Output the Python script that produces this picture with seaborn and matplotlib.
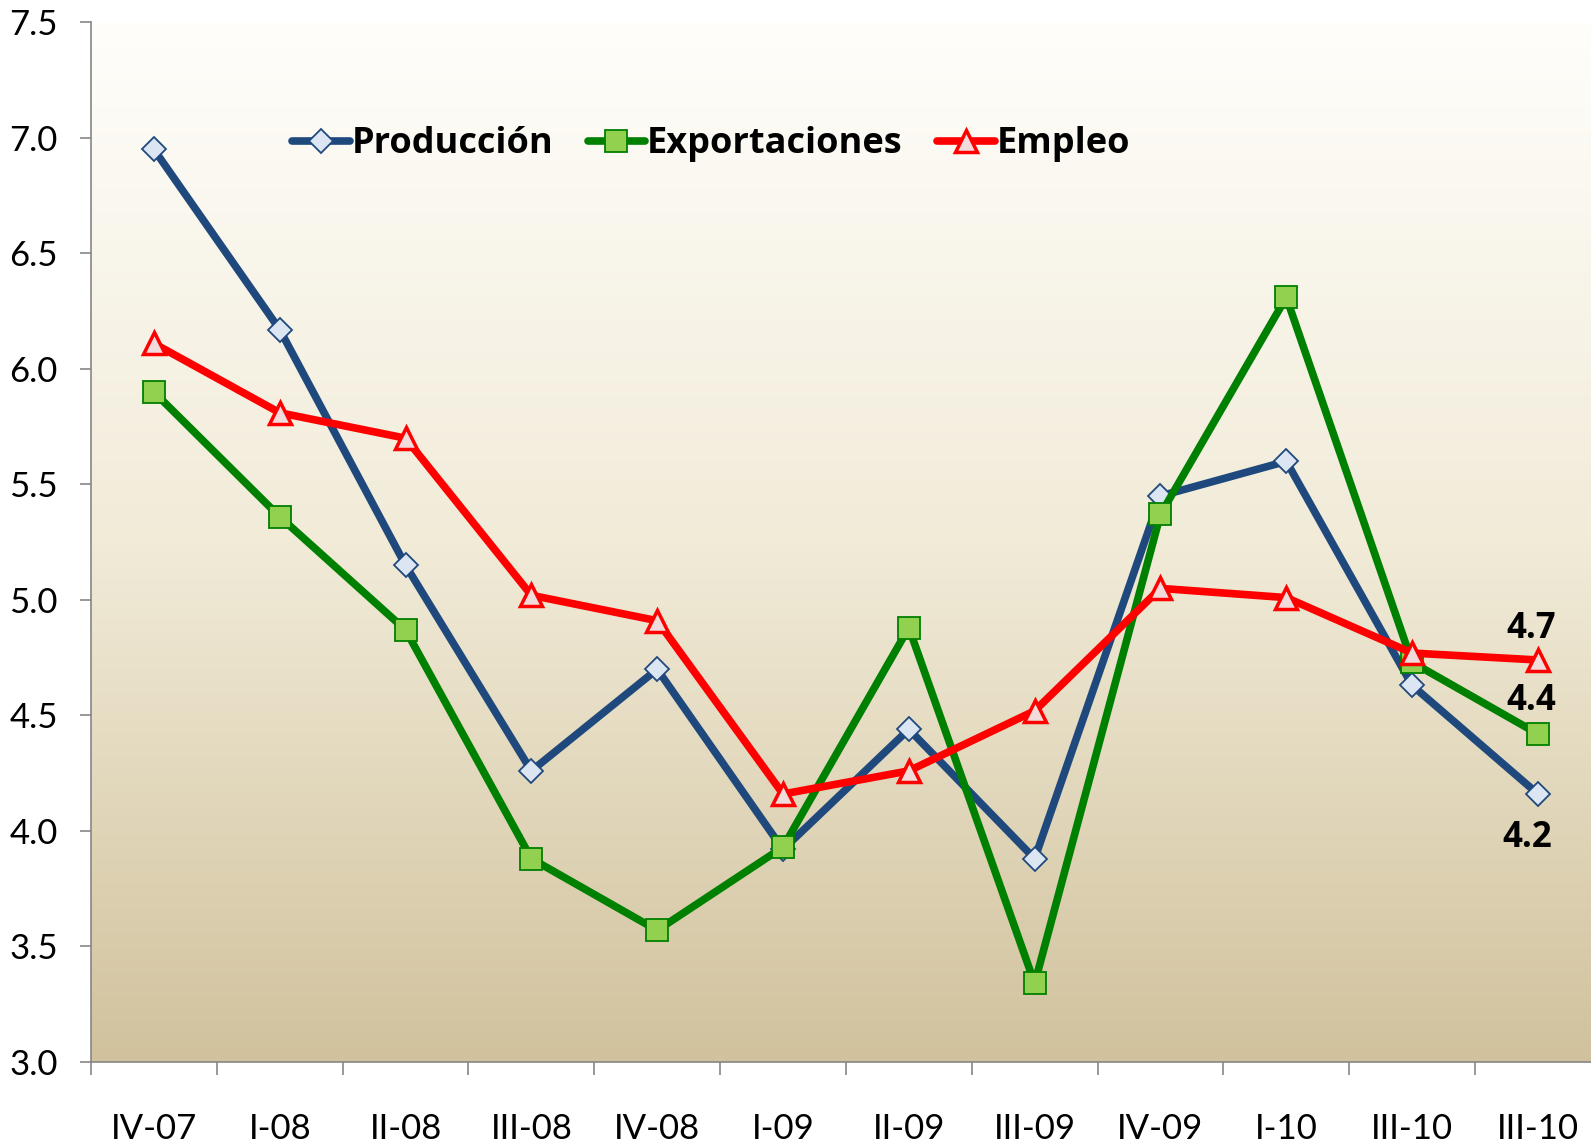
import numpy as np
import pandas as pd
import matplotlib.pyplot as plt
from matplotlib.colors import LinearSegmentedColormap
import seaborn as sns

# data #
quarters = ['IV-07', 'I-08', 'II-08', 'III-08', 'IV-08', 'I-09', 'II-09',
            'III-09', 'IV-09', 'I-10', 'III-10', 'III-10']
produccion = [6.95, 6.17, 5.15, 4.26, 4.70, 3.92, 4.44, 3.88, 5.45, 5.60, 4.63, 4.16]
exportaciones = [5.90, 5.36, 4.87, 3.88, 3.57, 3.93, 4.88, 3.34, 5.37, 6.31, 4.73, 4.42]
empleo = [6.11, 5.81, 5.70, 5.02, 4.91, 4.16, 4.26, 4.52, 5.05, 5.01, 4.77, 4.74]
y_ticks = [3.0, 3.5, 4.0, 4.5, 5.0, 5.5, 6.0, 6.5, 7.0, 7.5]

x_pos = np.arange(len(quarters))
df = pd.DataFrame({'x': x_pos, 'Producción': produccion,
                   'Exportaciones': exportaciones, 'Empleo': empleo})

sns.set_style('white')
plt.rcParams['font.family'] = ['Lato', 'DejaVu Sans']
plt.rcParams['text.color'] = 'black'
font_size = 25
bold_font = {'family': ['Open Sans', 'DejaVu Sans'], 'size': 26, 'weight': 'bold'}
label_font = {'family': ['Open Sans', 'DejaVu Sans'], 'size': 25, 'weight': 'bold'}

fig = plt.figure(figsize=(15.91, 11.45), dpi=100)
ax = fig.add_axes([0.0572, 0.0725, 0.949, 0.908])

# background gradient #
bg_cmap = LinearSegmentedColormap.from_list(
    'bg', [(0.0, '#D1C29D'), (0.5, '#F1EBD8'), (1.0, '#FFFEFB')])
grad = np.linspace(0, 1, 256).reshape(-1, 1)
ax.imshow(grad, aspect='auto', cmap=bg_cmap, origin='lower',
          extent=[0, 1, 0, 1], transform=ax.transAxes, zorder=0)

# series #
sns.lineplot(data=df, x='x', y='Producción', ax=ax, color='#1F497D', lw=5.5,
             marker='D', markersize=12, markerfacecolor='#DCE6F2',
             markeredgecolor='#1F497D', markeredgewidth=1.3,
             label='Producción', zorder=3)
sns.lineplot(data=df, x='x', y='Exportaciones', ax=ax, color='#008000', lw=5.5,
             marker='s', markersize=16, markerfacecolor='#92D050',
             markeredgecolor='#008000', markeredgewidth=1.3,
             label='Exportaciones', zorder=4)
sns.lineplot(data=df, x='x', y='Empleo', ax=ax, color='#FF0000', lw=5.5,
             marker='^', markersize=16, markerfacecolor='#F2DCDB',
             markeredgecolor='#FF0000', markeredgewidth=2.5,
             label='Empleo', zorder=5)

# end labels #
last = len(quarters) - 1
ax.annotate(f'{empleo[last]:.1f}', (last, empleo[last]), xytext=(-5, 22),
            textcoords='offset points', ha='center', va='center', **label_font)
ax.annotate(f'{exportaciones[last]:.1f}', (last, exportaciones[last]), xytext=(-5, 24),
            textcoords='offset points', ha='center', va='center', **label_font)
ax.annotate(f'{produccion[last]:.1f}', (last, produccion[last]), xytext=(-8, -32),
            textcoords='offset points', ha='center', va='center', **label_font)

# axes #
ax.set_xlim(-0.5, len(quarters) - 0.5)
ax.set_ylim(3.0, 7.5)
ax.set_yticks(y_ticks)
ax.set_yticklabels([f'{v:.1f}' for v in y_ticks], fontsize=font_size)
ax.set_xticks(x_pos)
ax.set_xticklabels(quarters, fontsize=font_size)
ax.set_xticks(np.arange(-0.5, len(quarters)), minor=True)
ax.tick_params(axis='x', which='major', bottom=True, length=0, pad=37,
               labelcolor='black')
ax.tick_params(axis='x', which='minor', bottom=True, length=9, width=1.2,
               color='#868686', direction='out')
ax.tick_params(axis='y', left=True, length=8, width=1.2, color='#868686',
               direction='out', pad=16, labelcolor='black')
ax.set_xlabel('')
ax.set_ylabel('')
for s in ['top', 'right']:
    ax.spines[s].set_visible(False)
for s in ['left', 'bottom']:
    ax.spines[s].set_color('#868686')
    ax.spines[s].set_linewidth(1.2)

leg = ax.legend(loc='center left', bbox_to_anchor=(0.1835, 0.874),
                bbox_transform=fig.transFigure, ncol=3, frameon=False,
                borderaxespad=0, borderpad=0, handlelength=1.6,
                handletextpad=0.05, columnspacing=0.95, prop=bold_font)
for t in leg.get_texts():
    t.set_color('black')

plt.savefig('out.png', dpi=100)
